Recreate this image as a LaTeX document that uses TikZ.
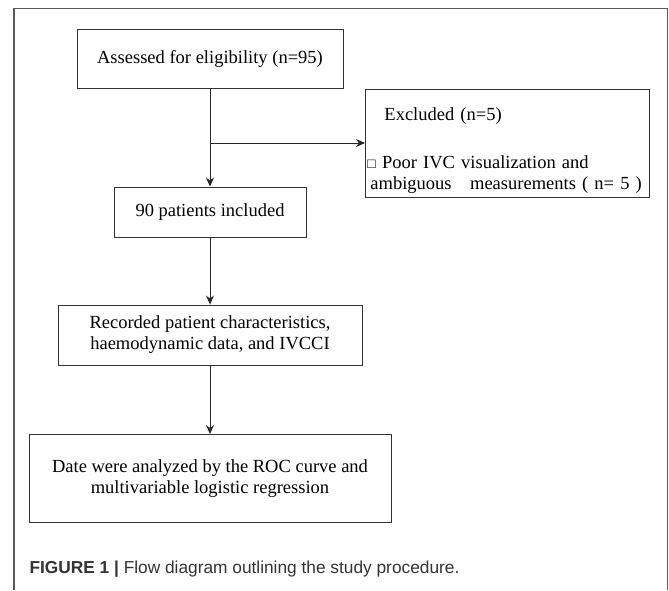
\documentclass[tikz,border=0pt]{standalone}
\usepackage{fontspec}
\setmainfont{Liberation Serif}
\setsansfont{Liberation Sans}
\usetikzlibrary{arrows.meta}
\tikzstyle{stage} = [draw=black!80, line width=0.9pt, align=center, inner sep=2pt]
\tikzstyle{arrow} = [line width=0.9pt, draw=black!85, ->, >={Stealth[length=9pt,width=8pt]}]

\begin{document}
\begin{tikzpicture}[x=1pt, y=-1pt, font=\fontsize{18.5}{21}\selectfont]

    % 画布大小
    \useasboundingbox (0,0) rectangle (669,590);

    % 外框 (底边无线)
    \draw[black!65, line width=1.2pt] (14,590) -- (14,8.5) -- (667.5,8.5) -- (667.5,590);

    % 流程方框
    \node[stage, minimum width=266pt, minimum height=59pt] (assess) at (210,58.5) {Assessed for eligibility (n=95)};
    \node[stage, minimum width=192pt, minimum height=50pt] (incl) at (210,212) {90 patients included};
    \node[stage, minimum width=304pt, minimum height=60pt] (record) at (210,335)
        {Recorded patient characteristics,\\haemodynamic data, and IVCCI};
    \node[stage, minimum width=362pt, minimum height=88pt] (analysis) at (210,478.5)
        {Date were analyzed by the ROC curve and\\multivariable logistic regression};

    % 排除框
    \node[stage, align=left, anchor=north west, text width=280pt, minimum height=108pt] (excl) at (365,89)
        {\rule{0pt}{27pt}\hspace*{17pt}Excluded (n=5)\\[27pt]
         {\fontsize{14}{14}\selectfont\char"25A1}\ Poor IVC visualization and\\
         \hspace*{3pt}ambiguous\ \ \ measurements ( n= 5 )};

    % 分支点
    \coordinate (split) at (210,143);

    % 箭头
    \draw[arrow] (assess) -- (incl);
    \draw[arrow] (split) -- (split -| excl.west);
    \draw[arrow] (incl) -- (record);
    \draw[arrow] (record) -- (analysis);

    % 图注
    \node[anchor=west, font=\sffamily\fontsize{17.3}{20}\selectfont, text=black!80] (caption) at (26,569)
        {\textbf{FIGURE 1 |} Flow diagram outlining the study procedure.};

\end{tikzpicture}
\end{document}
